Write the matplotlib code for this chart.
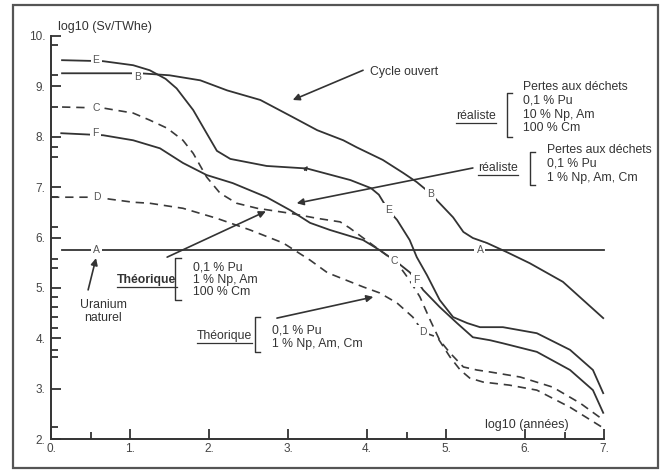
import matplotlib
matplotlib.use("Agg")
import matplotlib.pyplot as plt
from matplotlib.patches import Rectangle
from matplotlib.lines import Line2D

plt.rcParams['font.family'] = ['Liberation Sans', 'DejaVu Sans']

# --- data (log10 years vs log10 Sv/TWhe) ---
A_x = [0.14, 7.0]
A_y = [5.75, 5.75]

B_x = [0.14, 1.13, 1.5, 1.89, 2.23, 2.65, 3.06, 3.37, 3.70, 3.87, 4.20, 4.46, 4.63, 4.80,
       4.92, 5.09, 5.22, 5.34, 5.52, 5.77, 6.06, 6.48, 6.99]
B_y = [9.26, 9.26, 9.22, 9.12, 8.92, 8.73, 8.39, 8.13, 7.93, 7.79, 7.54, 7.28, 7.10, 6.88,
       6.68, 6.40, 6.11, 5.99, 5.89, 5.71, 5.49, 5.12, 4.40]

C_x = [0.14, 0.66, 1.04, 1.25, 1.47, 1.67, 1.80, 1.97, 2.14, 2.35, 2.61, 3.03, 3.37, 3.66,
       3.78, 4.16, 4.35, 4.42, 4.54, 4.67, 4.80, 4.92, 5.05, 5.22, 5.39, 5.56, 5.94, 6.35,
       6.70, 6.99]
C_y = [8.59, 8.57, 8.47, 8.33, 8.17, 7.93, 7.67, 7.20, 6.88, 6.68, 6.58, 6.48, 6.38, 6.31,
       6.19, 5.75, 5.53, 5.41, 5.15, 4.82, 4.36, 3.96, 3.71, 3.43, 3.37, 3.33, 3.23, 3.03,
       2.71, 2.38]

D_x = [0.0, 0.58, 0.75, 1.04, 1.25, 1.67, 2.10, 2.52, 2.94, 3.28, 3.50, 3.95, 4.16, 4.38,
       4.58, 4.71, 4.89, 5.05, 5.18, 5.30, 5.47, 5.80, 6.15, 6.57, 6.99]
D_y = [6.80, 6.80, 6.76, 6.70, 6.68, 6.58, 6.38, 6.15, 5.89, 5.55, 5.30, 5.02, 4.90, 4.70,
       4.42, 4.12, 4.02, 3.63, 3.37, 3.21, 3.13, 3.07, 2.97, 2.63, 2.22]

E_x = [0.14, 0.66, 1.04, 1.25, 1.45, 1.59, 1.80, 1.97, 2.10, 2.27, 2.73, 3.24, 3.79, 4.05,
       4.15, 4.27, 4.38, 4.54, 4.63, 4.76, 4.92, 5.09, 5.27, 5.43, 5.72, 6.15, 6.57, 6.86, 6.99]
E_y = [9.52, 9.50, 9.42, 9.32, 9.15, 8.96, 8.53, 8.07, 7.72, 7.56, 7.42, 7.37, 7.14, 6.98,
       6.85, 6.54, 6.35, 5.95, 5.61, 5.25, 4.76, 4.42, 4.30, 4.22, 4.22, 4.10, 3.77, 3.37, 2.91]

F_x = [0.13, 0.66, 1.04, 1.38, 1.67, 1.97, 2.30, 2.73, 3.03, 3.28, 3.53, 3.95, 4.16, 4.38,
       4.54, 4.63, 4.71, 4.92, 5.14, 5.34, 5.56, 5.72, 6.15, 6.57, 6.86, 6.99]
F_y = [8.07, 8.03, 7.93, 7.77, 7.48, 7.24, 7.08, 6.80, 6.54, 6.29, 6.15, 5.95, 5.75, 5.51,
       5.31, 5.15, 4.96, 4.62, 4.30, 4.02, 3.96, 3.90, 3.73, 3.37, 2.97, 2.52]

# letter tags sitting on the curves (two per curve)
tag_names = ['E', 'B', 'C', 'F', 'D', 'A', 'A', 'B', 'E', 'C', 'F', 'D']
tag_x = [0.57, 1.09, 0.57, 0.56, 0.58, 0.58, 5.43, 4.80, 4.27, 4.35, 4.63, 4.71]
tag_y = [9.52, 9.18, 8.57, 8.07, 6.80, 5.75, 5.75, 6.86, 6.54, 5.53, 5.15, 4.12]

y_major = [2, 3, 4, 5, 6, 7, 8, 9, 10]
y_minor = [9.82, 9.22, 8.59, 7.80, 7.60, 6.81, 6.21, 5.58, 5.39, 4.82, 4.62, 4.43, 4.20,
           3.77, 3.63, 2.24]
x_major = [0, 1, 2, 3, 4, 5, 6, 7]
x_minor = [0.5, 4.5, 6.5]

ink = '#333333'

fig = plt.figure(figsize=(6.67, 4.70), dpi=100)
ax = fig.add_axes([51 / 667, 1 - 439 / 470, 553 / 667, 403 / 470])
ax.set_xlim(0, 7)
ax.set_ylim(2, 10)

for s in ['top', 'right']:
    ax.spines[s].set_visible(False)
for s in ['left', 'bottom']:
    ax.spines[s].set_color(ink)
    ax.spines[s].set_linewidth(1.4)

ax.set_yticks(y_major, [f"{v}." for v in y_major])
ax.set_yticks(y_minor, minor=True)
ax.set_xticks(x_major, [f"{v}." for v in x_major])
ax.set_xticks(x_minor, minor=True)
ax.tick_params(which='both', direction='in', color=ink, width=1.3, labelcolor='#444444',
               labelsize=8.5)
ax.tick_params(which='major', length=7)
ax.tick_params(which='minor', length=5)
ax.tick_params(axis='y', pad=4)
ax.tick_params(axis='x', pad=3)

# curves
solid = dict(color=ink, lw=1.3, clip_on=False, solid_joinstyle='round')
dashed = dict(color='#3a3a3a', lw=1.2, ls=(0, (5, 3.5)), clip_on=False)
ax.plot(A_x, A_y, **solid)
ax.plot(B_x, B_y, **solid)
ax.plot(E_x, E_y, **solid)
ax.plot(F_x, F_y, **solid)
ax.plot(C_x, C_y, **dashed)
ax.plot(D_x, D_y, **dashed)

for n, x, y in zip(tag_names, tag_x, tag_y):
    ax.text(x, y, n, fontsize=7.5, ha='center', va='center', color='#555555',
            bbox=dict(fc='white', ec='none', pad=1.5))

ax.text(0.09, 10.17, "log10 (Sv/TWhe)", fontsize=9, color=ink, va='center')
ax.text(5.49, 2.28, "log10 (années)", fontsize=9, color=ink, va='center')

fs = 8.8
ax.text(4.04, 9.28, "Cycle ouvert", fontsize=fs, color=ink, va='center')

# upper "réaliste" block
for line, y in zip(["Pertes aux déchets", "0,1 % Pu", "10 % Np, Am", "100 % Cm"],
                   [8.98, 8.72, 8.43, 8.17]):
    ax.text(5.97, y, line, fontsize=fs, color=ink, va='center')
# lower "réaliste" block
for line, y in zip(["Pertes aux déchets", "0,1 % Pu", "1 % Np, Am, Cm"],
                   [7.73, 7.46, 7.19]):
    ax.text(6.28, y, line, fontsize=fs, color=ink, va='center')
# theoretical blocks
for line, y in zip(["0,1 % Pu", "1 % Np, Am", "100 % Cm"], [5.41, 5.15, 4.91]):
    ax.text(1.80, y, line, fontsize=fs, color=ink, va='center')
for line, y in zip(["0,1 % Pu", "1 % Np, Am, Cm"], [4.16, 3.89]):
    ax.text(2.80, y, line, fontsize=fs, color=ink, va='center')

ax.text(0.66, 4.66, "Uranium", fontsize=fs, color=ink, ha='center', va='center')
ax.text(0.66, 4.40, "naturel", fontsize=fs, color=ink, ha='center', va='center')

under = []
under.append(ax.text(5.13, 8.41, "réaliste", fontsize=fs, color=ink, va='center'))
under.append(ax.text(5.41, 7.37, "réaliste", fontsize=fs, color=ink, va='center'))
under.append(ax.text(0.84, 5.15, "Théorique", fontsize=fs, color=ink, va='center',
                     fontweight='bold'))
under.append(ax.text(1.85, 4.04, "Théorique", fontsize=fs, color=ink, va='center'))

# brackets  (x, y_top, y_bottom)
br = [(5.77, 8.87, 7.99), (6.06, 7.69, 7.04), (1.57, 5.59, 4.76), (2.58, 4.42, 3.73)]
for bx, y1, y2 in br:
    ax.plot([bx + 0.07, bx, bx, bx + 0.07], [y1, y1, y2, y2], color=ink, lw=1.0,
            clip_on=False)

# arrows (tail -> head)
arrows = [((3.95, 9.32), (3.06, 8.73)),
          ((5.34, 7.38), (3.11, 6.68)),
          ((1.47, 5.61), (2.72, 6.52)),
          ((2.86, 4.40), (4.08, 4.82)),
          ((0.47, 4.96), (0.57, 5.59))]
for tail, head in arrows:
    ax.annotate('', xy=head, xytext=tail,
                arrowprops=dict(arrowstyle='-|>', color=ink, lw=1.2, mutation_scale=10,
                                shrinkA=0, shrinkB=0))
# small arrow tip left on curve E
ax.annotate('', xy=(3.25, 7.42), xytext=(3.21, 7.33),
            arrowprops=dict(arrowstyle='-|>', color=ink, lw=0.8, mutation_scale=6,
                            shrinkA=0, shrinkB=0))

# underline the key words
fig.canvas.draw()
r = fig.canvas.get_renderer()
for t in under:
    bb = t.get_window_extent(r)
    fig.add_artist(Line2D([bb.x0 / 667, bb.x1 / 667], [(bb.y0 - 1) / 470] * 2,
                          color=ink, lw=0.9))

# outer frame of the scanned figure
fig.add_artist(Rectangle((13 / 667, 2 / 470), 645 / 667, 463 / 470, fill=False,
                         ec='#555555', lw=1.6))

fig.savefig("out.png", dpi=100)
